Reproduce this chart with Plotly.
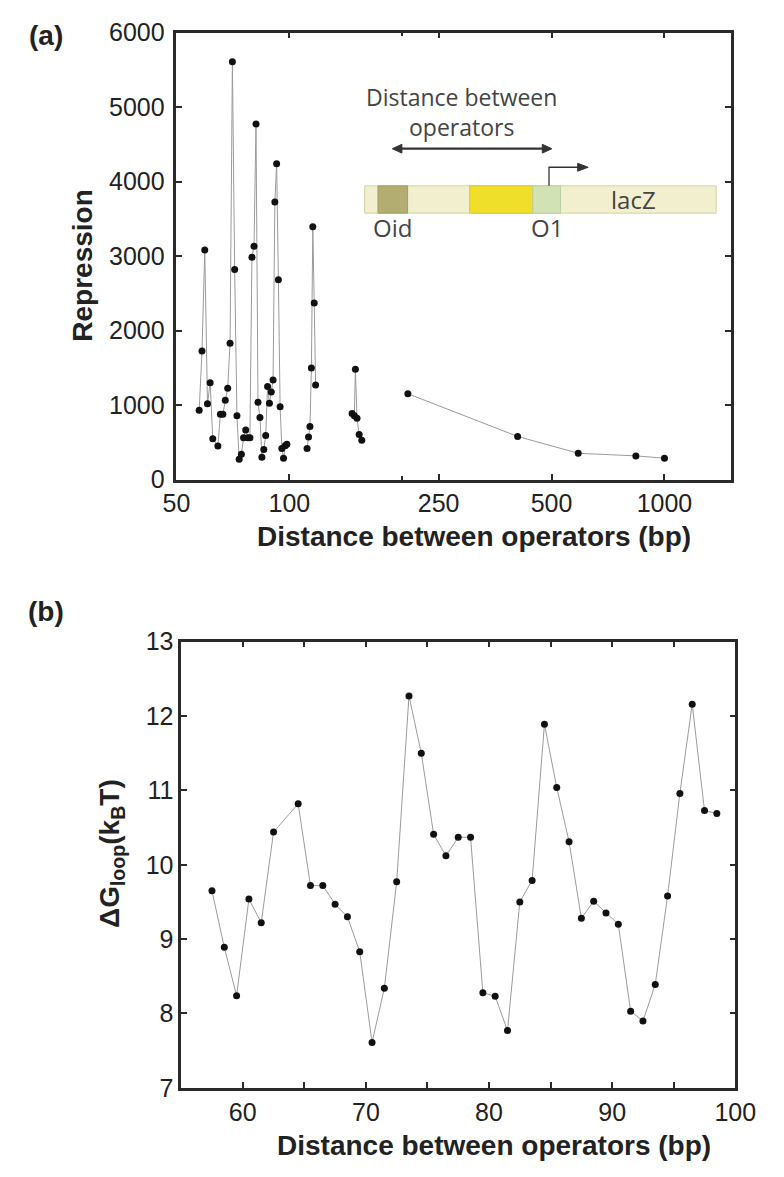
import plotly.graph_objects as go

W, H = 784, 1177

# ---------------- data: panel (a) ----------------
dist_a1 = [57.5, 58.5, 59.5, 60.5, 61.5, 62.5, 64.5, 65.5, 66.5, 67.5, 68.5, 69.5,
           70.5, 71.5, 72.5, 73.5, 74.5, 75.5, 76.5, 77.5, 78.5, 79.5, 80.5, 81.5,
           82.5, 83.5, 84.5, 85.5, 86.5, 87.5, 88.5, 89.5, 90.5, 91.5, 92.5, 93.5,
           94.5, 95.5, 96.5, 97.5, 98.5]
rep_a1 = [930, 1725, 3083, 1018, 1301, 550, 450, 878, 878, 1065, 1227, 1830,
          5607, 2821, 856, 275, 341, 563, 668, 563, 563, 2983, 3131, 4773,
          1039, 834, 301, 406, 594, 1249, 1027, 1175, 1336, 3725, 4240, 2681,
          978, 419, 288, 455, 476]
dist_a2 = [111.5, 112.5, 113.5, 114.5, 115.5, 116.5, 117.5]
rep_a2 = [419, 572, 712, 1498, 3393, 2371, 1271]
dist_a3 = [147, 149, 150, 151.5, 153.5, 156]
rep_a3 = [887, 856, 1480, 825, 607, 528]
dist_a4 = [207, 406, 589, 839, 1000]
rep_a4 = [1153, 580, 354, 319, 288]

x_tickvals_a = [50, 100, 250, 500, 1000]
x_ticktext_a = ["50", "100", "250", "500", "1000"]
x_minorvals_a = [200]
y_tickvals_a = [0, 1000, 2000, 3000, 4000, 5000, 6000]

# ---------------- data: panel (b) ----------------
dist_b = dist_a1
dG_b = [9.65, 8.89, 8.24, 9.54, 9.22, 10.44, 10.82, 9.72, 9.72, 9.47, 9.30, 8.83,
        7.61, 8.34, 9.77, 12.27, 11.50, 10.41, 10.12, 10.37, 10.37, 8.28, 8.23, 7.77,
        9.50, 9.79, 11.89, 11.04, 10.31, 9.28, 9.51, 9.35, 9.20, 8.03, 7.90, 8.39,
        9.58, 10.96, 12.16, 10.73, 10.69]
x_tickvals_b = [60, 70, 80, 90, 100]
x_minorvals_b = [65, 75, 85, 95]
y_tickvals_b = [7, 8, 9, 10, 11, 12, 13]


def px(x):
    return x / W


def py(y):
    return 1 - y / H


def path(points, close=False):
    s = "M " + " L ".join(f"{px(a):.5f},{py(b):.5f}" for a, b in points)
    return s + (" Z" if close else "")


LINE_C = "#9a9a9a"
MARK_C = "#111111"
FRAME_C = "#2a2a2a"
TXT_C = "#222222"
ARROW_C = "#333333"

fig = go.Figure()

for xs, ys in [(dist_a1, rep_a1), (dist_a2, rep_a2), (dist_a3, rep_a3), (dist_a4, rep_a4)]:
    fig.add_trace(go.Scatter(x=xs, y=ys, mode="lines+markers", xaxis="x", yaxis="y",
                             line=dict(color=LINE_C, width=1),
                             marker=dict(color=MARK_C, size=7),
                             showlegend=False))

fig.add_trace(go.Scatter(x=dist_b, y=dG_b, mode="lines+markers", xaxis="x2", yaxis="y2",
                         line=dict(color=LINE_C, width=1),
                         marker=dict(color=MARK_C, size=7),
                         showlegend=False))

tickfont = dict(family="Liberation Sans, Arial, sans-serif", size=25, color=TXT_C)
axis_common = dict(showline=True, linecolor=FRAME_C, linewidth=2.5, mirror="ticks",
                   ticks="inside", ticklen=6, tickwidth=2, tickcolor=FRAME_C,
                   showgrid=False, zeroline=False, tickfont=tickfont)

fig.update_layout(
    width=W, height=H,
    margin=dict(l=0, r=0, t=0, b=0),
    paper_bgcolor="white", plot_bgcolor="white",
    xaxis=dict(domain=[px(170), px(750)], anchor="y", type="log",
               range=[1.69897, 3.17609], tickmode="array",
               tickvals=x_tickvals_a, ticktext=x_ticktext_a,
               minor=dict(tickmode="array", tickvals=x_minorvals_a, ticks="inside",
                          ticklen=4, tickwidth=2, tickcolor=FRAME_C, showgrid=False),
               **axis_common),
    yaxis=dict(domain=[py(477), py(19)], anchor="x", range=[0, 6000],
               tickmode="array", tickvals=y_tickvals_a, ticklabelstandoff=4,
               **axis_common),
    xaxis2=dict(domain=[px(175), px(755)], anchor="y2", range=[55, 100],
                tickmode="array", tickvals=x_tickvals_b,
                minor=dict(tickmode="array", tickvals=x_minorvals_b, ticks="inside",
                           ticklen=6, tickwidth=2, tickcolor=FRAME_C, showgrid=False),
                **axis_common),
    yaxis2=dict(domain=[py(1100), py(643)], anchor="x2", range=[7, 13],
                tickmode="array", tickvals=y_tickvals_b, **axis_common),
)

bold = dict(family="Liberation Sans, Arial, sans-serif", size=28, color=TXT_C)
ann = []
ann.append(dict(x=px(33), y=py(22), text="<b>(a)</b>", font=bold))
ann.append(dict(x=px(33), y=py(612), text="<b>(b)</b>", font=bold))
ann.append(dict(x=px(72), y=py(257), text="<b>Repression</b>", textangle=-90, font=bold))
ann.append(dict(x=px(481), y=py(535), text="<b>Distance between operators (bp)</b>", font=bold))
ann.append(dict(x=px(502), y=py(1159), text="<b>Distance between operators (bp)</b>", font=bold))
ann.append(dict(x=px(102), y=py(860), text="<b>ΔG<sub>loop</sub>(k<sub>B</sub>T)</b>",
                textangle=-90, font=bold))

inset_font = dict(family="Open Sans, sans-serif", size=24, color="#444444")
ann.append(dict(x=px(468), y=py(100), text="Distance between<br>operators",
                font=dict(family="Open Sans, sans-serif", size=23, color="#444444")))
ann.append(dict(x=px(396), y=py(219), text="Oid", font=inset_font))
ann.append(dict(x=px(558), y=py(219), text="O1", font=inset_font))
ann.append(dict(x=px(648), y=py(190), text="lacZ", font=inset_font))

for a in ann:
    a.update(xref="paper", yref="paper", showarrow=False, xanchor="center", yanchor="middle")
fig.update_layout(annotations=ann)

shapes = []
shapes.append(dict(type="rect", x0=px(367), x1=px(735), y0=py(204), y1=py(176),
                   fillcolor="#f2efcf", line=dict(color="#d6d2a6", width=1)))
shapes.append(dict(type="rect", x0=px(381), x1=px(412), y0=py(204), y1=py(176),
                   fillcolor="#b3ad72", line=dict(color="#a09c66", width=1)))
shapes.append(dict(type="rect", x0=px(477), x1=px(543), y0=py(204), y1=py(176),
                   fillcolor="#f0df2a", line=dict(color="#d8c92a", width=1)))
shapes.append(dict(type="rect", x0=px(543), x1=px(572), y0=py(204), y1=py(176),
                   fillcolor="#d1e2b4", line=dict(color="#bccf9e", width=1)))
# double-headed arrow (distance between operators)
shapes.append(dict(type="line", x0=px(402), x1=px(557), y0=py(138), y1=py(138),
                   line=dict(color=ARROW_C, width=2.2)))
shapes.append(dict(type="path", path=path([(396, 138), (406, 133.5), (406, 142.5)], True),
                   fillcolor=ARROW_C, line=dict(color=ARROW_C, width=1)))
shapes.append(dict(type="path", path=path([(563, 138), (553, 133.5), (553, 142.5)], True),
                   fillcolor=ARROW_C, line=dict(color=ARROW_C, width=1)))
# promoter arrow
shapes.append(dict(type="path", path=path([(560, 176), (560, 157), (592, 157)]),
                   line=dict(color=ARROW_C, width=1.3)))
shapes.append(dict(type="path", path=path([(601, 157), (590, 153), (590, 161)], True),
                   fillcolor=ARROW_C, line=dict(color=ARROW_C, width=1)))
for s in shapes:
    s.update(xref="paper", yref="paper", layer="above")
fig.update_layout(shapes=shapes)

fig.write_html("out.html")
